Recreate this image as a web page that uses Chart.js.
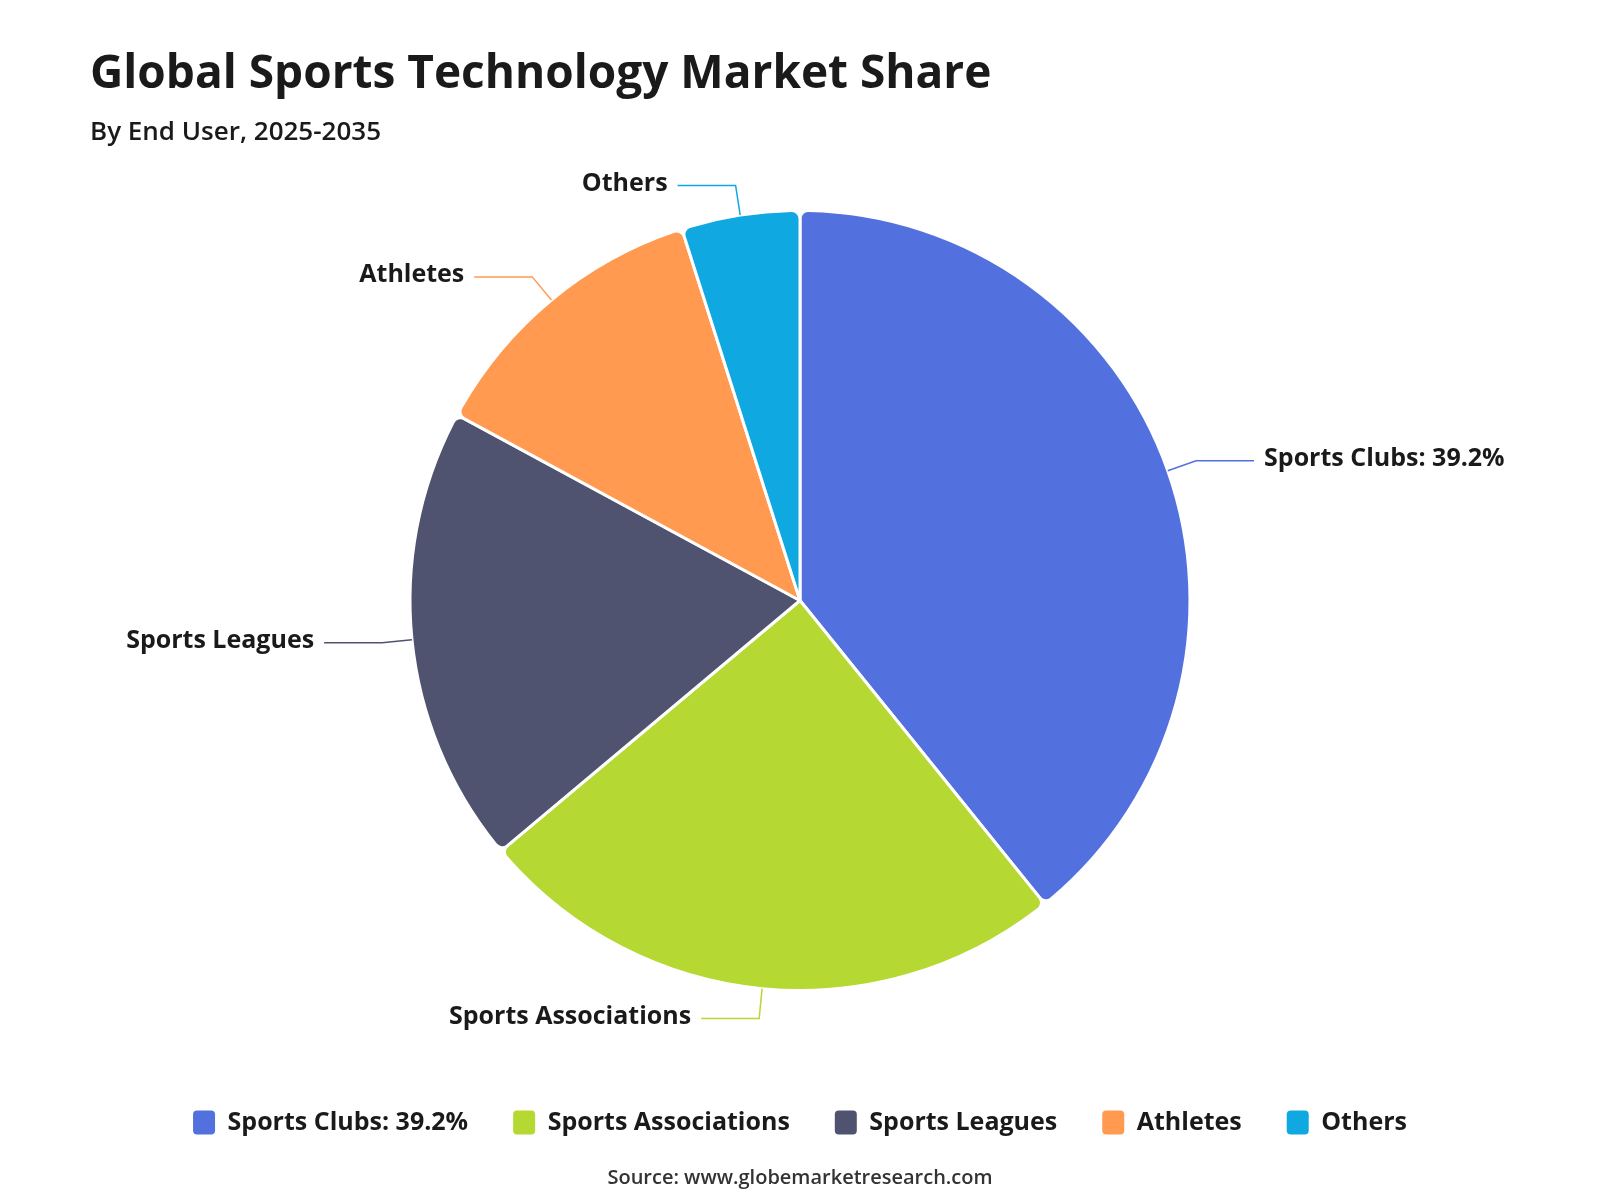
<!DOCTYPE html>
<html>
<head>
<meta charset="utf-8">
<script src="https://cdn.jsdelivr.net/npm/chart.js@4.4.0/dist/chart.umd.min.js"></script>
<style>
  html, body { margin: 0; padding: 0; background: #fff; }
  #grafico { display: block; }
</style>
</head>
<body>
<canvas id="grafico" width="1600" height="1200"></canvas>
<script>
// dados
const categorias = ['Sports Clubs: 39.2%', 'Sports Associations', 'Sports Leagues', 'Athletes', 'Others'];
const valores = [39.2, 24.7, 19.0, 12.2, 4.9];
const cores = ['#5271DF', '#B5D832', '#505370', '#FF9A50', '#10A8E0'];

const titulo = 'Global Sports Technology Market Share';
const subtitulo = 'By End User, 2025-2035';
const fonte = 'Source: www.globemarketresearch.com';

const familia = '"Open Sans", "Noto Sans", sans-serif';
const corTexto = '#1a1a1a';

// titulo, subtitulo e fonte
const textosPlugin = {
    id: 'textos',
    beforeDraw(chart) {
        const ctx = chart.ctx;
        ctx.save();
        ctx.fillStyle = '#fff';
        ctx.fillRect(0, 0, chart.width, chart.height);
        ctx.fillStyle = corTexto;
        ctx.textAlign = 'left';
        ctx.textBaseline = 'alphabetic';
        ctx.font = '700 46px ' + familia;
        ctx.fillText(titulo, 90, 88);
        ctx.font = '600 26px ' + familia;
        ctx.fillText(subtitulo, 90, 140);
        ctx.fillStyle = '#333';
        ctx.textAlign = 'center';
        ctx.font = '600 20px ' + familia;
        ctx.fillText(fonte, 800, 1184);
        ctx.restore();
    }
};

// rotulos com linhas de chamada
const rotulosPlugin = {
    id: 'rotulos',
    afterDatasetsDraw(chart) {
        const ctx = chart.ctx;
        const arcos = chart.getDatasetMeta(0).data;
        ctx.save();
        arcos.forEach((arco, i) => {
            const p = arco.getProps(['x', 'y', 'startAngle', 'endAngle', 'outerRadius'], true);
            const meio = (p.startAngle + p.endAngle) / 2;
            const cos = Math.cos(meio), sin = Math.sin(meio);
            const x1 = p.x + cos * p.outerRadius;
            const y1 = p.y + sin * p.outerRadius;
            const x2 = p.x + cos * (p.outerRadius + 30);
            const y2 = p.y + sin * (p.outerRadius + 30);
            const lado = cos >= 0 ? 1 : -1;
            const x3 = x2 + lado * 58;
            ctx.strokeStyle = cores[i];
            ctx.lineWidth = 1.5;
            ctx.beginPath();
            ctx.moveTo(x1, y1);
            ctx.lineTo(x2, y2);
            ctx.lineTo(x3, y2);
            ctx.stroke();
            ctx.fillStyle = corTexto;
            ctx.font = '700 25px ' + familia;
            ctx.textBaseline = 'middle';
            ctx.textAlign = lado > 0 ? 'left' : 'right';
            ctx.fillText(chart.data.labels[i], x3 + lado * 10, y2 - 2);
        });
        ctx.restore();
    }
};

const ctx = document.getElementById('grafico').getContext('2d');
const grafico = new Chart(ctx, {
    type: 'pie',
    data: {
        labels: categorias,
        datasets: [{
            data: valores,
            backgroundColor: cores,
            borderColor: '#fff',
            borderWidth: 3,
            borderRadius: 8,
            radius: 390
        }]
    },
    options: {
        responsive: false,
        animation: false,
        layout: {
            padding: { top: 136, bottom: 55, left: 40, right: 40 }
        },
        plugins: {
            tooltip: { enabled: false },
            title: { display: false },
            legend: {
                position: 'bottom',
                labels: {
                    boxWidth: 22,
                    boxHeight: 24,
                    padding: 45,
                    useBorderRadius: true,
                    borderRadius: 4,
                    color: corTexto,
                    font: { family: familia, size: 25, weight: '700' },
                    generateLabels(chart) {
                        const itens = Chart.overrides.pie.plugins.legend.labels.generateLabels(chart);
                        return itens.map(item => Object.assign(item, { lineWidth: 0 }));
                    }
                }
            }
        }
    },
    plugins: [textosPlugin, rotulosPlugin]
});
</script>
</body>
</html>
